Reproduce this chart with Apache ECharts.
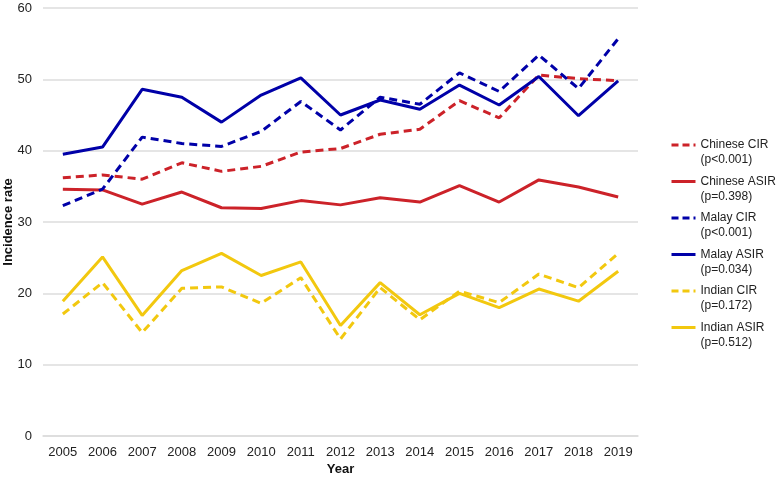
<!DOCTYPE html>
<html>
<head>
<meta charset="utf-8">
<script src="https://cdn.jsdelivr.net/npm/echarts@6/dist/echarts.min.js"></script>
<style>html,body{margin:0;padding:0;background:#fff;}#c{width:780px;height:477px;}</style>
</head>
<body>
<div id="c"></div>
<script>
const years = ['2005','2006','2007','2008','2009','2010','2011','2012','2013','2014','2015','2016','2017','2018','2019'];
const chineseCIR  = [36.2, 36.6, 36.0, 38.3, 37.1, 37.8, 39.8, 40.3, 42.3, 43.0, 47.0, 44.6, 50.6, 50.1, 49.8];
const chineseASIR = [34.6, 34.5, 32.5, 34.2, 32.0, 31.9, 33.0, 32.4, 33.4, 32.8, 35.1, 32.8, 35.9, 34.9, 33.5];
const malayCIR    = [32.3, 34.6, 41.9, 41.0, 40.6, 42.7, 46.9, 42.9, 47.5, 46.5, 50.9, 48.3, 53.4, 48.7, 55.7];
const malayASIR   = [39.5, 40.5, 48.6, 47.5, 44.0, 47.8, 50.2, 45.0, 47.1, 45.8, 49.2, 46.4, 50.4, 44.9, 49.8];
const indianCIR   = [17.1, 21.5, 14.5, 20.7, 20.9, 18.6, 22.2, 13.6, 20.8, 16.3, 20.3, 18.7, 22.7, 20.8, 25.6];
const indianASIR  = [18.9, 25.1, 16.9, 23.2, 25.6, 22.5, 24.4, 15.5, 21.5, 17.0, 20.0, 18.0, 20.6, 18.9, 23.1];
const seriesNames = ['Chinese CIR', 'Chinese ASIR', 'Malay CIR', 'Malay ASIR', 'Indian CIR', 'Indian ASIR'];
const pValues = ['(p<0.001)', '(p=0.398)', '(p<0.001)', '(p=0.034)', '(p=0.172)', '(p=0.512)'];
const yTicks = [0, 10, 20, 30, 40, 50, 60];

const RED = '#CC2229', BLUE = '#0000A8', YELLOW = '#F2C80F';
const FONT = 'Liberation Sans, Arial, sans-serif';
const colors = [RED, RED, BLUE, BLUE, YELLOW, YELLOW];
const dashed = [true, false, true, false, true, false];

function mk(i, data) {
  return {
    name: seriesNames[i], type: 'line', data: data, symbol: 'none', showSymbol: false,
    lineStyle: { color: colors[i], width: 3, type: dashed[i] ? [8, 5] : 'solid' },
    itemStyle: { color: colors[i] },
    emphasis: { disabled: true }, animation: false
  };
}

const legendData = seriesNames.map(function (n, i) {
  return {
    name: n,
    itemStyle: { opacity: 0 },
    lineStyle: { color: colors[i], width: 3, type: dashed[i] ? [7, 4] : 'solid', opacity: 1 }
  };
});

const chart = echarts.init(document.getElementById('c'), null, { renderer: 'canvas' });
chart.setOption({
  animation: false,
  backgroundColor: '#fff',
  textStyle: { fontFamily: FONT },
  grid: { left: 43, right: 142, top: 8, bottom: 41, containLabel: false, outerBoundsMode: 'none' },
  xAxis: {
    type: 'category', data: years, boundaryGap: true,
    name: 'Year', nameLocation: 'middle', nameGap: 27, nameMoveOverlap: false,
    nameTextStyle: { fontSize: 13, fontWeight: 'bold', color: '#111', fontFamily: FONT },
    axisLine: { show: true, lineStyle: { color: '#dcdcdc', width: 1.5 } },
    axisTick: { show: false },
    axisLabel: { fontSize: 13, color: '#222', margin: 10, fontFamily: FONT }
  },
  yAxis: {
    type: 'value', min: yTicks[0], max: yTicks[yTicks.length - 1], interval: 10,
    name: 'Incidence rate', nameLocation: 'middle', nameGap: 28, nameMoveOverlap: false,
    nameTextStyle: { fontSize: 13, fontWeight: 'bold', color: '#111', fontFamily: FONT },
    axisLine: { show: false }, axisTick: { show: false },
    axisLabel: { fontSize: 13, color: '#222', margin: 11, fontFamily: FONT },
    splitLine: { lineStyle: { color: '#dcdcdc', width: 1.5 } }
  },
  legend: {
    orient: 'vertical', left: 670, top: 124, padding: 0,
    itemWidth: 24, itemHeight: 14, itemGap: -5.5,
    data: legendData,
    formatter: function (n) { return '{s| }\n{t|' + n + '}\n{t|' + pValues[seriesNames.indexOf(n)] + '}'; },
    textStyle: {
      fontSize: 12, color: '#222', fontFamily: FONT,
      rich: {
        s: { fontSize: 12, lineHeight: 15 },
        t: { fontSize: 12, lineHeight: 15, color: '#222', fontFamily: FONT }
      }
    },
    selectedMode: false
  },
  series: [
    mk(0, chineseCIR), mk(1, chineseASIR), mk(2, malayCIR),
    mk(3, malayASIR), mk(4, indianCIR), mk(5, indianASIR)
  ]
});
</script>
</body>
</html>
